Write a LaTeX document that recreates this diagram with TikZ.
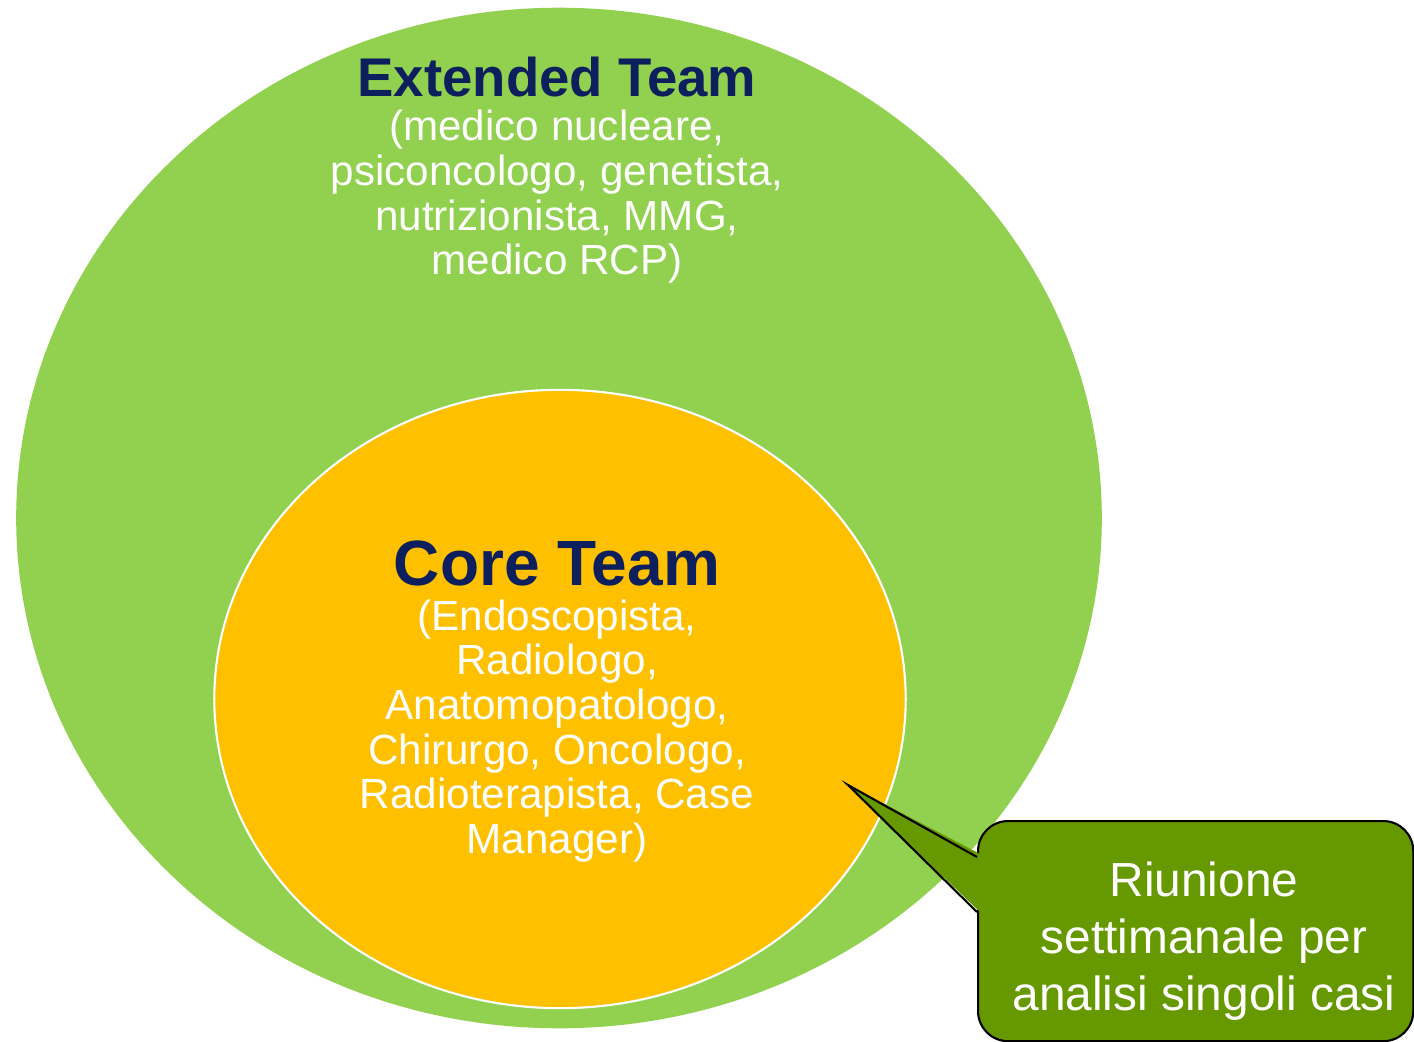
\documentclass[tikz,border=0pt]{standalone}
\usepackage{fontspec}
\setmainfont{Liberation Sans}
\usetikzlibrary{shapes.geometric}
\definecolor{extgreen}{HTML}{92D050}
\definecolor{coreorange}{HTML}{FFC000}
\definecolor{teamnavy}{HTML}{0D1F5C}
\definecolor{meetgreen}{HTML}{669900}
\tikzset{
	teambody/.style={ellipse,inner sep=0pt},
	teamtitle/.style={text=teamnavy,font=\bfseries\fontsize{15.5}{18}\selectfont},
	teamlist/.style={text=white,align=center,font=\fontsize{12}{12.7}\selectfont},
	meetbox/.style={rounded corners=0.3cm,fill=meetgreen,draw=black,line width=0.6pt},
	meettext/.style={text=white,align=center,font=\fontsize{13.6}{16.2}\selectfont}
}
\begin{document}
\begin{tikzpicture}[x=0.01cm,y=-0.01cm]
	\useasboundingbox (0,0) rectangle (1414,1042);
	% the two circles of the team
	\node[teambody,fill=extgreen,minimum width=10.85cm,minimum height=10.2cm] (extended) at (559,518) {};
	\node[teambody,fill=coreorange,draw=white,line width=0.6pt,minimum width=6.91cm,minimum height=6.18cm] (core) at (560,699) {};
	\node[teamtitle] (exttitle) at (557,77) {Extended Team};
	\node[teamlist] (extlist) at (557,197) {(medico nucleare,\\psiconcologo, genetista,\\nutrizionista, MMG,\\medico RCP)};
	\node[teamtitle,font=\bfseries\fontsize{18.2}{21}\selectfont] (coretitle) at (557,563) {Core Team};
	\node[teamlist] (corelist) at (557,731) {(Endoscopista,\\Radiologo,\\Anatomopatologo,\\Chirurgo, Oncologo,\\Radioterapista, Case\\Manager)};
	% callout
	\node[meetbox,anchor=north west,minimum width=4.35cm,minimum height=2.2cm] (meeting) at (977,820) {};
	\node[meettext] (meetlabel) at (1204,941) {Riunione\\settimanale per\\analisi singoli casi};
	\coordinate (tip) at (848,785);
	\fill[meetgreen] ([xshift=0.05cm]meeting.west |- 0,855) -- (tip) -- ([xshift=0.05cm]meeting.west |- 0,914) -- cycle;
	\draw[line width=0.6pt] (meeting.west |- 0,857) -- (tip) -- (meeting.west |- 0,912);
\end{tikzpicture}
\end{document}
